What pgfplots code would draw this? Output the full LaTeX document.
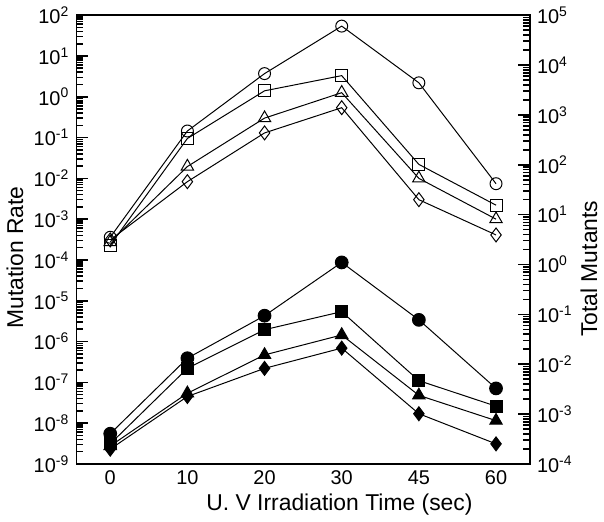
\documentclass[border=0pt]{standalone}
\usepackage{fontspec}
\setmainfont{Liberation Sans}
\usepackage{pgfplots}
\pgfplotsset{compat=1.18}
\pgfplotsset{
  mybase/.style={
    scale only axis, width=228pt, height=225.5pt,
    xmin=-0.44, xmax=5.44,
    major tick length=6pt, minor tick length=3.5pt,
    every tick/.append style={black, line width=0.8pt},
    axis line style={line width=0.7pt},
    tick label style={font=\fontsize{10}{12}\selectfont},
    label style={font=\fontsize{11.5}{13}\selectfont},
  }
}
\begin{document}
\begin{tikzpicture}
\begin{axis}[mybase, ymode=log,
  ymin=1e-9, ymax=1e2,
  ytick pos=left, xtick pos=bottom,
  xtick={0,1,2,3,4,5}, xticklabels={0,10,20,30,45,60},
  major x tick style={draw=none},
  ytick={1e-9,1e-8,1e-7,1e-6,1e-5,1e-4,1e-3,1e-2,1e-1,1,1e1,1e2},
  minor ytick={2e-9,3e-9,4e-9,5e-9,6e-9,7e-9,8e-9,9e-9,
    2e-8,3e-8,4e-8,5e-8,6e-8,7e-8,8e-8,9e-8,
    2e-7,3e-7,4e-7,5e-7,6e-7,7e-7,8e-7,9e-7,
    2e-6,3e-6,4e-6,5e-6,6e-6,7e-6,8e-6,9e-6,
    2e-5,3e-5,4e-5,5e-5,6e-5,7e-5,8e-5,9e-5,
    2e-4,3e-4,4e-4,5e-4,6e-4,7e-4,8e-4,9e-4,
    2e-3,3e-3,4e-3,5e-3,6e-3,7e-3,8e-3,9e-3,
    2e-2,3e-2,4e-2,5e-2,6e-2,7e-2,8e-2,9e-2,
    2e-1,3e-1,4e-1,5e-1,6e-1,7e-1,8e-1,9e-1,
    2,3,4,5,6,7,8,9,
    20,30,40,50,60,70,80,90},
  yticklabels={10\textsuperscript{-9},10\textsuperscript{-8},10\textsuperscript{-7},10\textsuperscript{-6},10\textsuperscript{-5},10\textsuperscript{-4},10\textsuperscript{-3},10\textsuperscript{-2},10\textsuperscript{-1},10\textsuperscript{0},10\textsuperscript{1},10\textsuperscript{2}},
  xlabel={U. V Irradiation Time (sec)},
  ylabel={Mutation Rate},
  xlabel style={at={(axis description cs:0.58,-0.09)}, anchor=center},
  ylabel style={at={(axis description cs:-0.135,0.46)}, anchor=center},
  every axis plot/.append style={black, line width=0.5pt},
]
% open symbols
\addplot[mark=o, mark size=3pt, mark options={fill=white}] coordinates {(0,3.6e-4) (1,0.145) (2,3.7) (3,54) (4,2.2) (5,7.4e-3)};
\addplot[mark=square, mark size=3pt, mark options={fill=white}] coordinates {(0,2.3e-4) (1,0.095) (2,1.4) (3,3.3) (4,0.022) (5,2.2e-3)};
\addplot[mark=triangle, mark size=3.6pt, mark options={fill=white}] coordinates {(0,2.75e-4) (1,0.0195) (2,0.30) (3,1.26) (4,0.010) (5,1.0e-3)};
\addplot[mark=diamond, mark size=3.5pt, mark options={fill=white}] coordinates {(0,3.1e-4) (1,8.3e-3) (2,0.13) (3,0.54) (4,3.0e-3) (5,4.1e-4)};
% filled symbols
\addplot[mark=*, mark size=3.2pt] coordinates {(0,5.5e-9) (1,3.9e-7) (2,4.3e-6) (3,8.7e-5) (4,3.4e-6) (5,7.1e-8)};
\addplot[mark=square*, mark size=3pt] coordinates {(0,3.1e-9) (1,2.2e-7) (2,1.95e-6) (3,5.4e-6) (4,1.1e-7) (5,2.6e-8)};
\addplot[mark=triangle*, mark size=3.6pt] coordinates {(0,2.75e-9) (1,5.4e-8) (2,4.7e-7) (3,1.45e-6) (4,4.8e-8) (5,1.15e-8)};
\addplot[mark=diamond*, mark size=3.5pt] coordinates {(0,2.3e-9) (1,4.5e-8) (2,2.2e-7) (3,6.9e-7) (4,1.7e-8) (5,3.1e-9)};
\end{axis}
\begin{axis}[mybase, ymode=log,
  ymin=1e-4, ymax=1e5,
  axis x line=none, axis y line*=right,
  y axis line style={-},
  ytick={1e-4,1e-3,1e-2,1e-1,1,1e1,1e2,1e3,1e4,1e5},
  minor ytick={2e-4,3e-4,4e-4,5e-4,6e-4,7e-4,8e-4,9e-4,
    2e-3,3e-3,4e-3,5e-3,6e-3,7e-3,8e-3,9e-3,
    2e-2,3e-2,4e-2,5e-2,6e-2,7e-2,8e-2,9e-2,
    2e-1,3e-1,4e-1,5e-1,6e-1,7e-1,8e-1,9e-1,
    2,3,4,5,6,7,8,9,
    20,30,40,50,60,70,80,90,
    200,300,400,500,600,700,800,900,
    2000,3000,4000,5000,6000,7000,8000,9000,
    20000,30000,40000,50000,60000,70000,80000,90000},
  yticklabels={10\textsuperscript{-4},10\textsuperscript{-3},10\textsuperscript{-2},10\textsuperscript{-1},10\textsuperscript{0},10\textsuperscript{1},10\textsuperscript{2},10\textsuperscript{3},10\textsuperscript{4},10\textsuperscript{5}},
  ylabel={Total Mutants},
  ylabel style={at={(axis description cs:1.13,0.435)}, anchor=center},
]
\addplot[draw=none, mark=none] coordinates {(0,1)};
\end{axis}
\end{tikzpicture}
\end{document}
